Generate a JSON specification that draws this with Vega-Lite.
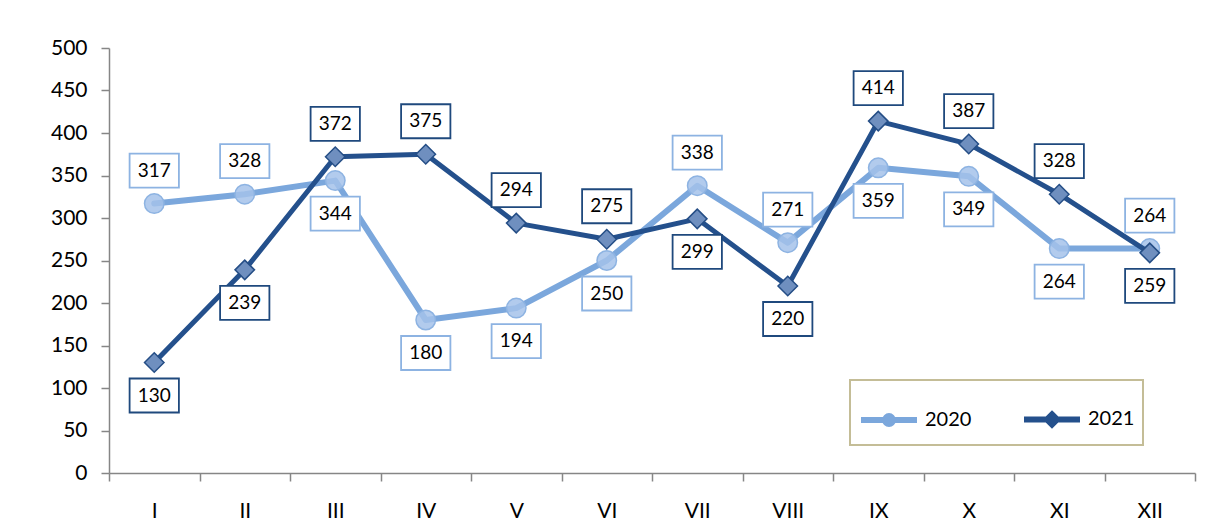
{
  "$schema": "https://vega.github.io/schema/vega-lite/v6.json",
  "autosize": {"type": "none"},
  "width": 1086,
  "height": 425,
  "padding": {"left": 109, "top": 48, "right": 13, "bottom": 53},
  "background": "white",
  "config": {
    "view": {"stroke": null},
    "font": "Lato",
    "axis": {
      "domainColor": "#868686",
      "domainWidth": 1.5,
      "tickColor": "#868686",
      "tickWidth": 1.5,
      "grid": false,
      "labelFont": "Lato",
      "labelColor": "#000000",
      "title": null
    }
  },
  "data": {
    "values": [
      {"month": "I", "year": "2020", "value": 317},
      {"month": "II", "year": "2020", "value": 328},
      {"month": "III", "year": "2020", "value": 344},
      {"month": "IV", "year": "2020", "value": 180},
      {"month": "V", "year": "2020", "value": 194},
      {"month": "VI", "year": "2020", "value": 250},
      {"month": "VII", "year": "2020", "value": 338},
      {"month": "VIII", "year": "2020", "value": 271},
      {"month": "IX", "year": "2020", "value": 359},
      {"month": "X", "year": "2020", "value": 349},
      {"month": "XI", "year": "2020", "value": 264},
      {"month": "XII", "year": "2020", "value": 264},
      {"month": "I", "year": "2021", "value": 130},
      {"month": "II", "year": "2021", "value": 239},
      {"month": "III", "year": "2021", "value": 372},
      {"month": "IV", "year": "2021", "value": 375},
      {"month": "V", "year": "2021", "value": 294},
      {"month": "VI", "year": "2021", "value": 275},
      {"month": "VII", "year": "2021", "value": 299},
      {"month": "VIII", "year": "2021", "value": 220},
      {"month": "IX", "year": "2021", "value": 414},
      {"month": "X", "year": "2021", "value": 387},
      {"month": "XI", "year": "2021", "value": 328},
      {"month": "XII", "year": "2021", "value": 259}
    ]
  },
  "transform": [
    {"joinaggregate": [{"op": "max", "field": "value", "as": "monthMax"}], "groupby": ["month"]}
  ],
  "encoding": {
    "x": {
      "field": "month",
      "type": "ordinal",
      "sort": ["I", "II", "III", "IV", "V", "VI", "VII", "VIII", "IX", "X", "XI", "XII"],
      "scale": {"type": "band", "paddingInner": 0, "paddingOuter": 0},
      "axis": {"labelAngle": 0, "tickBand": "extent", "tickSize": 8, "labelPadding": 19, "labelFontSize": 21}
    },
    "y": {
      "field": "value",
      "type": "quantitative",
      "scale": {"domain": [0, 500], "nice": false},
      "axis": {"values": [0, 50, 100, 150, 200, 250, 300, 350, 400, 450, 500], "tickSize": 8, "labelPadding": 14, "labelFontSize": 21}
    }
  },
  "layer": [
    {
      "transform": [{"filter": "datum.year == '2020'"}],
      "mark": {"type": "line", "strokeWidth": 6, "strokeCap": "round", "strokeJoin": "round"},
      "encoding": {
        "color": {
          "field": "year", "type": "nominal",
          "scale": {"domain": ["2020", "2021"], "range": ["#7BA7DC", "#24508C"]},
          "legend": {
            "orient": "none", "legendX": 741, "legendY": 332, "direction": "horizontal",
            "strokeColor": "#C4BD97", "padding": 8,
            "symbolType": "stroke", "symbolStrokeWidth": 6, "symbolSize": 3136,
            "labelFont": "Lato", "labelFontSize": 20, "labelColor": "#000000",
            "labelOffset": 5, "columnPadding": 40, "title": null,
            "encode": {
              "legend": {"update": {"strokeWidth": {"value": 2}}},
              "symbols": {
                "update": {
                  "shape": {"signal": "datum.value == '2020' ? 'M-1,0H1M0.14,0A0.14,0.14 0 1,1 -0.14,0A0.14,0.14 0 1,1 0.14,0Z' : 'M-1,0H1M0,-0.18L0.18,0L0,0.18L-0.18,0Z'"},
                  "fill": {"signal": "datum.value == '2020' ? '#A4C2EA' : '#6F8FBF'"}
                }
              }
            }
          }
        }
      }
    },
    {
      "transform": [{"filter": "datum.year == '2020'"}],
      "mark": {"type": "point", "shape": "circle", "filled": true, "size": 380, "fill": "#A4C2EA", "fillOpacity": 0.85, "stroke": "#8DB3E2", "strokeWidth": 1.5, "opacity": 1}
    },
    {
      "transform": [{"filter": "datum.year == '2021'"}],
      "mark": {"type": "line", "strokeWidth": 5, "strokeCap": "round", "strokeJoin": "round"},
      "encoding": {
        "color": {"field": "year", "type": "nominal"}
      }
    },
    {
      "transform": [{"filter": "datum.year == '2021'"}],
      "mark": {"type": "point", "shape": "diamond", "filled": true, "size": 380, "fill": "#6F8FBF", "fillOpacity": 1, "stroke": "#254E86", "strokeWidth": 1.5, "opacity": 1}
    },
    {
      "transform": [{"filter": "datum.value == datum.monthMax"}],
      "mark": {"type": "point", "shape": "M-1.45,-1H1.45V1H-1.45Z", "size": 1156, "filled": true, "fill": "white", "fillOpacity": 1, "strokeWidth": 1.8, "yOffset": -33, "opacity": 1},
      "encoding": {
        "stroke": {"condition": {"test": "datum.year == '2020'", "value": "#8DB3E2"}, "value": "#1F497D"}
      }
    },
    {
      "transform": [{"filter": "datum.value == datum.monthMax"}],
      "mark": {"type": "text", "font": "Lato", "fontSize": 19, "color": "#000000", "baseline": "middle", "align": "center", "dy": -33},
      "encoding": {"text": {"field": "value", "type": "quantitative"}}
    },
    {
      "transform": [{"filter": "datum.value != datum.monthMax"}],
      "mark": {"type": "point", "shape": "M-1.45,-1H1.45V1H-1.45Z", "size": 1156, "filled": true, "fill": "white", "fillOpacity": 1, "strokeWidth": 1.8, "yOffset": 33, "opacity": 1},
      "encoding": {
        "stroke": {"condition": {"test": "datum.year == '2020'", "value": "#8DB3E2"}, "value": "#1F497D"}
      }
    },
    {
      "transform": [{"filter": "datum.value != datum.monthMax"}],
      "mark": {"type": "text", "font": "Lato", "fontSize": 19, "color": "#000000", "baseline": "middle", "align": "center", "dy": 33},
      "encoding": {"text": {"field": "value", "type": "quantitative"}}
    }
  ]
}
